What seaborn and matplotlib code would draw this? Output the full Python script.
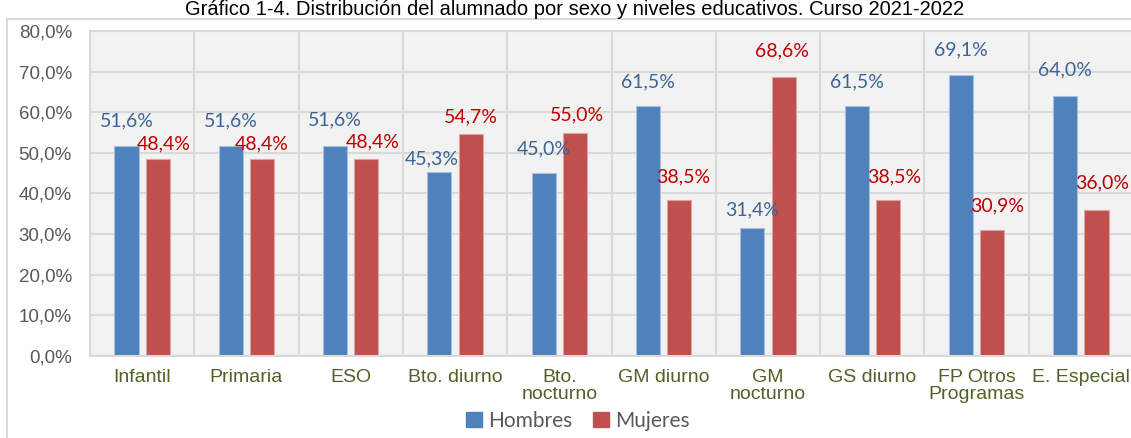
import pandas as pd
import matplotlib
matplotlib.use("Agg")
import matplotlib.pyplot as plt
import seaborn as sns
from matplotlib.patches import Rectangle, Patch

# ----------------------------------------------------------
# Data
# ----------------------------------------------------------
niveles = ["Infantil", "Primaria", "ESO", "Bto. diurno", "Bto.\nnocturno",
           "GM diurno", "GM\nnocturno", "GS diurno", "FP Otros\nProgramas",
           "E. Especial"]
hombres = [51.6, 51.6, 51.6, 45.3, 45.0, 61.5, 31.4, 61.5, 69.1, 64.0]
mujeres = [48.4, 48.4, 48.4, 54.7, 55.0, 38.5, 68.6, 38.5, 30.9, 36.0]
series = ["Hombres", "Mujeres"]

df = pd.DataFrame({
    "Nivel": niveles * 2,
    "Sexo": ["Hombres"] * len(niveles) + ["Mujeres"] * len(niveles),
    "Porcentaje": hombres + mujeres,
})

# label offsets (pixels) relative to bar top, as placed in the original
off_h = [(0, 25), (0, 25), (0, 26), (-8, 13), (0, 24),
         (0, 24), (0, 19), (0, 24), (0, 25), (0, 26)]
off_m = [(6, 16), (0, 16), (6, 18), (0, 17), (2, 18),
         (4, 23), (-2, 26), (6, 23), (5, 25), (6, 27)]

colores = {"Hombres": "#4f81bd", "Mujeres": "#c0504d"}
col_txt = {"Hombres": "#3c6497", "Mujeres": "#c00000"}
grid_c = "#d9d9d9"

# ----------------------------------------------------------
# Figure
# ----------------------------------------------------------
sns.set_style("white")
plt.rcParams["font.family"] = ["Liberation Sans", "DejaVu Sans"]

W, H = 1131, 438
fig = plt.figure(figsize=(W / 100, H / 100), dpi=100)
ax = fig.add_axes([90 / W, (H - 356) / H, 1043 / W, 325 / H])
ax.set_facecolor("#f2f2f2")

sns.barplot(
    data=df, x="Nivel", y="Porcentaje", hue="Sexo",
    palette=colores, width=0.6, gap=0.23, ax=ax,
    saturation=1, legend=False, errorbar=None,
)

# bar outline a bit lighter, like Excel
for cont, s in zip(ax.containers, series):
    for b in cont:
        b.set_edgecolor("#a8c0de" if s == "Hombres" else "#dfa3a1")
        b.set_linewidth(0.8)

# data labels
for cont, s, offs in zip(ax.containers, series, [off_h, off_m]):
    for b, (dx, dy) in zip(cont, offs):
        v = b.get_height()
        ax.annotate(f"{v:.1f}%".replace(".", ","),
                    (b.get_x() + b.get_width() / 2, v),
                    xytext=(dx, dy), textcoords="offset pixels",
                    ha="center", va="center", fontsize=14,
                    family="Lato", color=col_txt[s])

# axes
ax.set_ylim(0, 80)
ax.set_xlim(-0.5, len(niveles) - 0.5)
ax.set_yticks(range(0, 81, 10))
ax.set_yticklabels([f"{t},0%" for t in range(0, 81, 10)])
ax.set_xticks(range(len(niveles)))
ax.set_xticklabels(niveles, linespacing=1.05)
ax.set_xticks([i - 0.5 for i in range(len(niveles) + 1)], minor=True)
ax.set_xlabel("")
ax.set_ylabel("")

ax.set_axisbelow(True)
ax.yaxis.grid(True, color=grid_c, lw=1.5)
ax.xaxis.grid(True, which="minor", color=grid_c, lw=1.5)
ax.xaxis.grid(False, which="major")
for sp in ax.spines.values():
    sp.set_color(grid_c)
    sp.set_linewidth(1.5)

ax.tick_params(axis="y", length=0, pad=13, labelsize=13.5, labelcolor="#595959")
ax.tick_params(axis="x", which="both", length=0, pad=9, labelsize=14,
               labelcolor="#4f6228")

# legend
handles = [Patch(color=colores[s]) for s in series]
fig.legend(handles, series, loc="center", bbox_to_anchor=(578 / W, 1 - 421 / H),
           ncol=2, frameon=False, prop={"family": "Lato", "size": 15},
           labelcolor="#595959", handlelength=0.75, handleheight=0.75,
           handletextpad=0.3, columnspacing=1.0, borderaxespad=0)

# outer chart border and title
fig.add_artist(Rectangle((7 / W, -0.1), 1.2, (H - 19) / H + 0.1,
                         transform=fig.transFigure, fill=False,
                         ec=grid_c, lw=1.5))
fig.text(575 / W, 1 - 15 / H,
         "Gráfico 1-4. Distribución del alumnado por sexo y niveles educativos. Curso 2021-2022",
         ha="center", va="baseline", fontsize=14.5, color="#000000")

fig.savefig("out.png", dpi=100)
